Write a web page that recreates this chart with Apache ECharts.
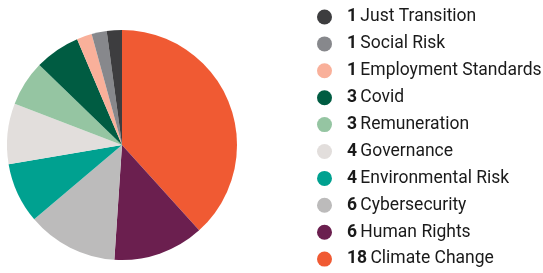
<!DOCTYPE html>
<html><head><meta charset="utf-8">
<script src="https://cdn.jsdelivr.net/npm/echarts@6/dist/echarts.min.js"></script>
<style>html,body{margin:0;padding:0;background:#fff}#c{width:543px;height:273px}</style>
</head><body><div id="c"></div>
<script>
// Clockwise order from 12 o'clock
const categories = ["Climate Change","Human Rights","Cybersecurity","Environmental Risk","Governance","Remuneration","Covid","Employment Standards","Social Risk","Just Transition"];
const values = [18,6,6,4,4,3,3,1,1,1];
const colors = ["#f05a33","#6b1f4f","#bcbbbb","#00a190","#e2dedc","#95c5a2","#005c42","#f9b09a","#87888c","#3d3d3f"];
const legendOrder = categories.slice().reverse();

const valueOf = {};
categories.forEach((c,i)=>valueOf[c]=values[i]);

const chart = echarts.init(document.getElementById('c'), null, {renderer:'canvas'});
chart.setOption({
  animation:false,
  legend:{
    orient:'vertical',
    left:312, top:3,
    height:272,
    icon:'circle',
    itemWidth:15, itemHeight:15,
    itemGap:8.9,
    data:legendOrder,
    selectedMode:false,
    formatter: n => '{b|'+valueOf[n]+'} {n|'+n+'}',
    textStyle:{
      lineHeight:15,
      rich:{
        b:{fontFamily:'Roboto',fontWeight:'bold',fontSize:17.5,color:'#1a1a1a',padding:[0,0,0,10],lineHeight:15},
        n:{fontFamily:'Roboto',fontSize:17.5,color:'#1a1a1a',lineHeight:15}
      }
    }
  },
  series:[{
    type:'pie',
    center:[122,145],
    radius:[0,115],
    startAngle:90,
    clockwise:true,
    label:{show:false},
    labelLine:{show:false},
    itemStyle:{borderWidth:0},
    emphasis:{disabled:true},
    data:categories.map((c,i)=>({name:c,value:values[i],itemStyle:{color:colors[i]}}))
  }]
});
</script></body></html>
